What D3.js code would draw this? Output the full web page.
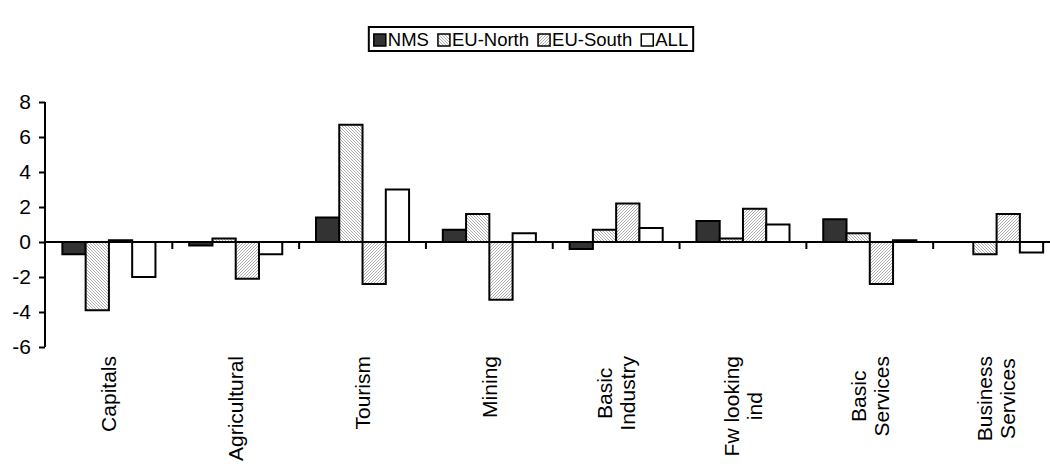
<!DOCTYPE html>
<html><head><meta charset="utf-8">
<script src="https://cdn.jsdelivr.net/npm/d3@7"></script>
<style>body{margin:0;background:#fff} text{font-family:Arial,"Liberation Sans",sans-serif;fill:#000}</style>
</head><body><svg id="c" width="1050" height="472"></svg>
<script>
const categories = [["Capitals"],["Agricultural"],["Tourism"],["Mining"],["Basic","Industry"],["Fw looking","ind"],["Basic","Services"],["Business","Services"]];
const seriesNames = ["NMS","EU-North","EU-South","ALL"];
const nms = [-0.7,-0.2,1.4,0.7,-0.4,1.2,1.3,0];
const euNorth = [-3.9,0.2,6.7,1.6,0.7,0.2,0.5,-0.7];
const euSouth = [0.1,-2.1,-2.4,-3.3,2.2,1.9,-2.4,1.6];
const all = [-2.0,-0.7,3.0,0.5,0.8,1.0,0.1,-0.6];
const yTicks = [-6,-4,-2,0,2,4,6,8];

const seriesValues = [nms, euNorth, euSouth, all];
const svg = d3.select("#c");
const FS = 21, LFS = 18.5;

const defs = svg.append("defs");
function pat(id, d){
  const p = defs.append("pattern").attr("id",id).attr("width",3).attr("height",3).attr("patternUnits","userSpaceOnUse");
  p.append("rect").attr("width",3).attr("height",3).attr("fill","#fff");
  p.append("path").attr("d",d).attr("stroke","#999").attr("stroke-width",0.8);
}
pat("pN","M0,0 L3,3 M-1,2 L1,4 M2,-1 L4,1");
pat("pS","M0,3 L3,0 M-1,1 L1,-1 M2,4 L4,2");
const fills = ["#333333","url(#pN)","url(#pS)","#ffffff"];

const x0 = d3.scaleBand().domain(d3.range(categories.length)).range([45.5, 1060]).padding(0);
const step = x0.bandwidth();
const gap = step*1.45/5.45;
const x1 = d3.scaleBand().domain(seriesNames).range([gap/2, step-gap/2]).padding(0);
const y = d3.scaleLinear().domain([-6,8]).range([347,102]);

// bars
const g = svg.append("g");
seriesNames.forEach((s,si)=>{
  g.selectAll(null).data(seriesValues[si]).enter().append("rect")
    .attr("x",(d,i)=>x0(i)+x1(s))
    .attr("width",x1.bandwidth())
    .attr("y",d=>y(Math.max(0,d)))
    .attr("height",d=>Math.abs(y(d)-y(0)))
    .attr("fill",fills[si]).attr("stroke","#000").attr("stroke-width",2);
});

// zero axis
svg.append("line").attr("x1",45).attr("x2",1050).attr("y1",y(0)).attr("y2",y(0)).attr("stroke","#000").attr("stroke-width",2);
svg.selectAll(null).data(d3.range(1,categories.length)).enter().append("line")
  .attr("x1",d=>x0(d)).attr("x2",d=>x0(d)).attr("y1",y(0)).attr("y2",y(0)+7)
  .attr("stroke","#000").attr("stroke-width",2);

// y axis
const ya = svg.append("g").attr("transform","translate(45,0)")
  .call(d3.axisLeft(y).tickValues(yTicks).tickSize(6).tickPadding(8).tickFormat(d=>String(d)));
ya.select(".domain").attr("stroke","#000").attr("stroke-width",2).attr("d",`M0,${y(8)}V${y(-6)}`);
ya.selectAll(".tick line").attr("stroke","#000").attr("stroke-width",2);
ya.selectAll(".tick text").attr("font-size",FS).attr("font-family","Arial,'Liberation Sans',sans-serif").attr("fill","#000");

// category labels
const top0 = 356;
categories.forEach((lines,i)=>{
  const cx = x0(i)+step/2;
  const lg = svg.append("g");
  const lh = FS*1.1;
  const texts = lines.map(t=>lg.append("text").text(t).attr("font-size",FS));
  const L = d3.max(texts,t=>t.node().getComputedTextLength());
  const n = lines.length;
  texts.forEach((t,li)=>{
    const off = (li-(n-1)/2)*lh;
    t.attr("text-anchor","middle").attr("transform",`translate(${cx+off+FS*0.35},${top0+L/2}) rotate(-90)`);
  });
});

// legend
const lgd = svg.append("g");
let cx = 0;
seriesNames.forEach((s,si)=>{
  const it = lgd.append("g").attr("transform",`translate(${cx},0)`);
  it.append("rect").attr("x",0).attr("y",-12).attr("width",12).attr("height",12)
    .attr("fill",fills[si]).attr("stroke","#000").attr("stroke-width",1.5);
  const t = it.append("text").attr("x",14).attr("y",0).attr("font-size",LFS).text(s);
  cx += 14 + t.node().getComputedTextLength() + 9;
});
const totalW = cx - 9;
const boxW = totalW + 10, boxH = 24;
const boxCx = 531, boxTop = 27;
lgd.attr("transform",`translate(${boxCx-totalW/2},${boxTop+19})`);
svg.insert("rect",":first-child").attr("x",boxCx-boxW/2).attr("y",boxTop).attr("width",boxW).attr("height",boxH)
  .attr("fill","#fff").attr("stroke","#000").attr("stroke-width",2);
</script></body></html>
